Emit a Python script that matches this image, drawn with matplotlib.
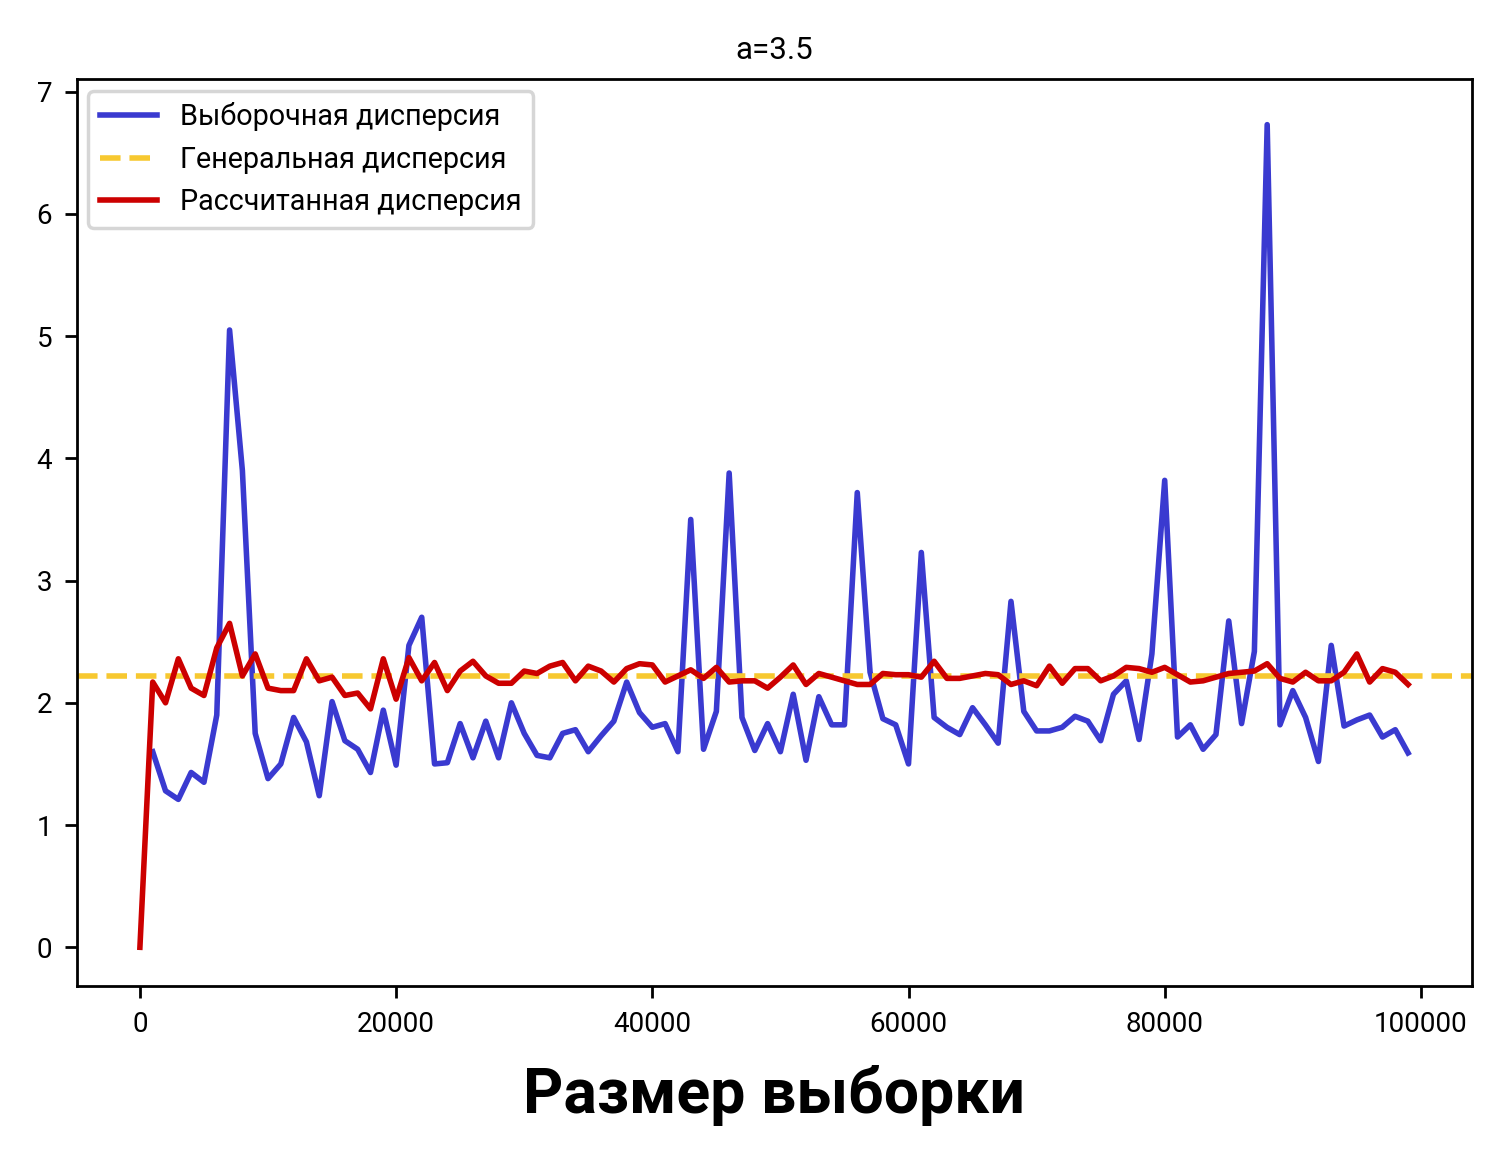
import matplotlib
matplotlib.use("Agg")
import matplotlib.pyplot as plt

plt.rcParams['font.family'] = ['Roboto', 'DejaVu Sans']

# sample sizes (thousands)
x_blue = [i * 1000 for i in range(1, 100)]
sample_var = [1.6, 1.28, 1.21, 1.43, 1.35, 1.9, 5.05, 3.9, 1.75, 1.38,
              1.5, 1.88, 1.68, 1.24, 2.01, 1.69, 1.62, 1.43, 1.94, 1.49,
              2.47, 2.7, 1.5, 1.51, 1.83, 1.55, 1.85, 1.55, 2.0, 1.75,
              1.57, 1.55, 1.75, 1.78, 1.6, 1.73, 1.85, 2.17, 1.92, 1.8,
              1.83, 1.6, 3.5, 1.62, 1.93, 3.88, 1.88, 1.61, 1.83, 1.6,
              2.07, 1.53, 2.05, 1.82, 1.82, 3.72, 2.25, 1.87, 1.82, 1.5,
              3.23, 1.88, 1.8, 1.74, 1.96, 1.82, 1.67, 2.83, 1.93, 1.77,
              1.77, 1.8, 1.89, 1.85, 1.69, 2.07, 2.18, 1.7, 2.4, 3.82,
              1.72, 1.82, 1.62, 1.74, 2.67, 1.83, 2.42, 6.73, 1.82, 2.1,
              1.88, 1.52, 2.47, 1.81, 1.86, 1.9, 1.72, 1.78, 1.59]

x_red = [i * 1000 for i in range(0, 100)]
calc_var = [0, 2.17, 2.0, 2.36, 2.12, 2.06, 2.45, 2.65, 2.22, 2.4,
            2.12, 2.1, 2.1, 2.36, 2.18, 2.21, 2.06, 2.08, 1.95, 2.36,
            2.03, 2.37, 2.18, 2.33, 2.1, 2.26, 2.34, 2.22, 2.16, 2.16,
            2.26, 2.24, 2.3, 2.33, 2.18, 2.3, 2.26, 2.17, 2.28, 2.32,
            2.31, 2.17, 2.22, 2.27, 2.2, 2.29, 2.17, 2.18, 2.18, 2.12,
            2.21, 2.31, 2.15, 2.24, 2.21, 2.18, 2.15, 2.15, 2.24, 2.23,
            2.23, 2.21, 2.34, 2.2, 2.2, 2.22, 2.24, 2.23, 2.15, 2.18,
            2.14, 2.3, 2.16, 2.28, 2.28, 2.18, 2.22, 2.29, 2.28, 2.25,
            2.29, 2.23, 2.17, 2.18, 2.21, 2.24, 2.25, 2.26, 2.32, 2.2,
            2.17, 2.25, 2.18, 2.18, 2.25, 2.4, 2.17, 2.28, 2.25, 2.15]

general_var = 2.22

fig, ax = plt.subplots(figsize=(6, 4.604), dpi=250)
fig.subplots_adjust(left=0.051, right=0.981, top=0.931, bottom=0.143)

ax.plot(x_blue, sample_var, color='#3a3ad0', lw=1.6, label='Выборочная дисперсия')
ax.axhline(general_var, color='#f7c830', lw=1.6, ls='--', label='Генеральная дисперсия')
ax.plot(x_red, calc_var, color='#cc0000', lw=1.6, label='Рассчитанная дисперсия')

ax.set_title('a=3.5', fontsize=9)
ax.set_xlabel('Размер выборки', fontsize=18, fontweight='bold', labelpad=8)
ax.tick_params(labelsize=8)
ax.set_ylim(-0.32, 7.1)
ax.legend(loc='upper left', fontsize=8.3, borderaxespad=0.4)

fig.savefig('out.png')
